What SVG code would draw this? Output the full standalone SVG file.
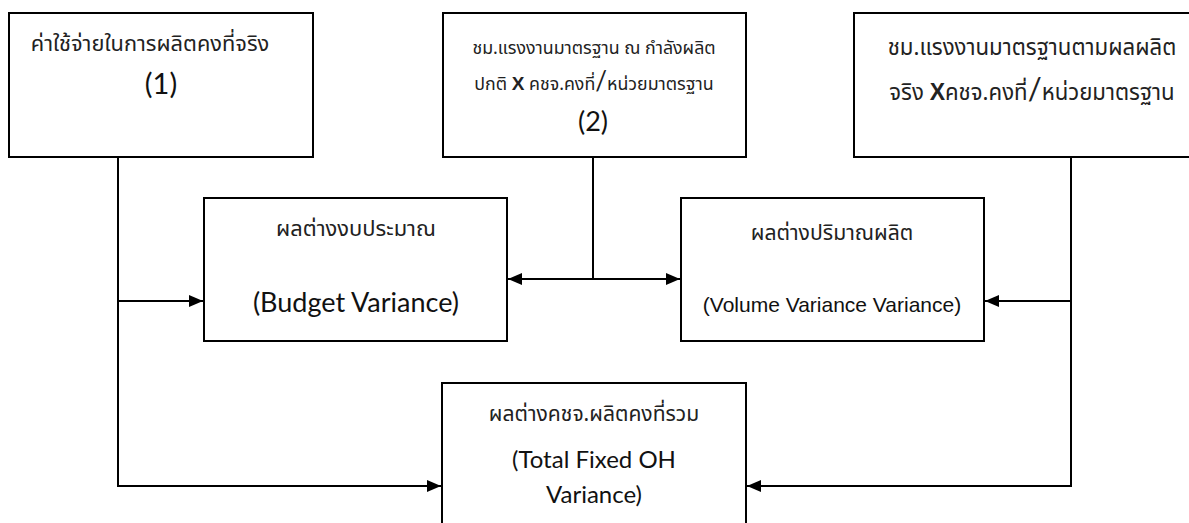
<svg xmlns="http://www.w3.org/2000/svg" width="1189" height="523" viewBox="0 0 1189 523">
<style>
.box{fill:#fff;stroke:#000;stroke-width:2}
.th{font-family:"Noto Sans Thai","Noto Sans","DejaVu Sans",sans-serif;font-size:21px;fill:#222;text-anchor:middle}
.en{font-family:Lato,"Open Sans",sans-serif;font-size:27px;fill:#111;text-anchor:middle}
.ar{font-family:"Liberation Sans",Arial,sans-serif;font-size:21px;fill:#111;text-anchor:middle}
.bx{font-family:"Liberation Sans",Arial,sans-serif;font-weight:bold}
.sl{font-family:Lato,"Open Sans",sans-serif}
.cn{fill:none;stroke:#000;stroke-width:2}
</style>
<defs>
<marker id="ah" viewBox="0 0 14 12" refX="14" refY="6" markerWidth="14" markerHeight="12" markerUnits="userSpaceOnUse" orient="auto-start-reverse">
<path d="M0,0 L14,6 L0,12 z" fill="#000"/>
</marker>
</defs>
<g id="connectors">
<polyline class="cn" points="118,157 118,486 441,486" marker-end="url(#ah)"/>
<line class="cn" x1="118" y1="301" x2="203" y2="301" marker-end="url(#ah)"/>
<line class="cn" x1="593" y1="157" x2="593" y2="279"/>
<line class="cn" x1="508" y1="279" x2="680" y2="279" marker-start="url(#ah)" marker-end="url(#ah)"/>
<polyline class="cn" points="1071,157 1071,486 747,486" marker-end="url(#ah)"/>
<line class="cn" x1="1071" y1="301" x2="985" y2="301" marker-end="url(#ah)"/>
</g>
<g id="node1">
<rect class="box" x="9" y="13" width="304" height="144"/>
<text class="th" x="150" y="51" style="font-size:21.8px">ค่าใช้จ่ายในการผลิตคงที่จริง</text>
<text class="en" x="161" y="94" style="font-size:29px">(1)</text>
</g>
<g id="node2">
<rect class="box" x="443" y="13" width="303" height="144"/>
<text class="th" x="594" y="54" style="font-size:17.8px">ชม.แรงงานมาตรฐาน ณ กำลังผลิต</text>
<text class="th" x="594" y="90" style="font-size:17.8px">ปกติ <tspan class="bx" style="font-size:19px">X</tspan> คชจ.คงที่<tspan class="sl" style="font-size:26px">/</tspan>หน่วยมาตรฐาน</text>
<text class="en" x="593" y="131" style="font-size:27px">(2)</text>
</g>
<g id="node3">
<rect class="box" x="854" y="13" width="345" height="144"/>
<text class="th" x="1032" y="55" style="font-size:22.2px">ชม.แรงงานมาตรฐานตามผลผลิต</text>
<text class="th" x="1032" y="100" style="font-size:22.2px">จริง <tspan class="bx" style="font-size:23px">X</tspan>คชจ.คงที่<tspan class="sl" style="font-size:31px">/</tspan>หน่วยมาตรฐาน</text>
</g>
<g id="budget">
<rect class="box" x="204" y="198" width="303" height="143"/>
<text class="th" x="356" y="236" style="font-size:21.9px">ผลต่างงบประมาณ</text>
<text class="en" x="356" y="312" style="font-size:27px">(Budget Variance)</text>
</g>
<g id="volume">
<rect class="box" x="681" y="198" width="303" height="143"/>
<text class="th" x="832" y="240" style="font-size:21.2px">ผลต่างปริมาณผลิต</text>
<text class="ar" x="832" y="312">(Volume Variance Variance)</text>
</g>
<g id="total">
<rect class="box" x="442" y="383" width="304" height="150"/>
<text class="th" x="594" y="421" style="font-size:21.1px">ผลต่างคชจ.ผลิตคงที่รวม</text>
<text class="en" x="594" y="468" style="font-size:24px">(Total Fixed OH</text>
<text class="en" x="594" y="503" style="font-size:24px">Variance)</text>
</g>
</svg>
